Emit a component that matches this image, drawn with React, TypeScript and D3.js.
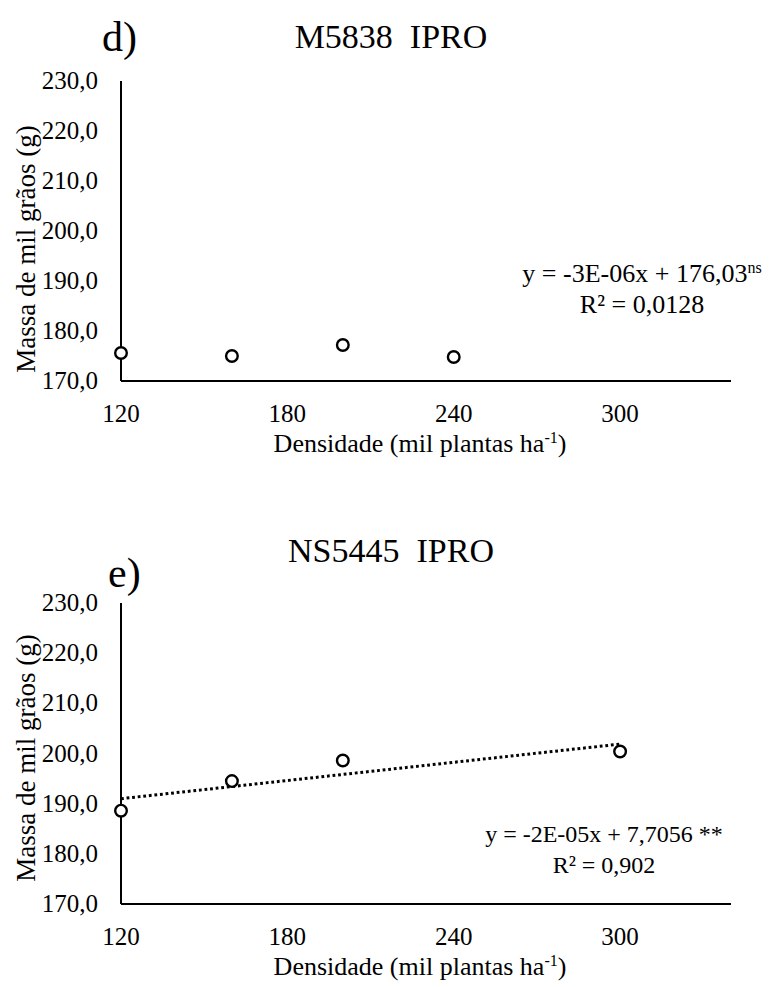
import React from 'react'
import * as d3 from 'd3'

// x ticks and y ticks shared by both panels
const xTicks = [120, 180, 240, 300]
const yTicks = [170, 180, 190, 200, 210, 220, 230]

// d) M5838 IPRO
const densD = [120, 160, 200, 240]
const massD = [175.6, 175.0, 177.2, 174.8]

// e) NS5445 IPRO
const densE = [120, 160, 200, 300]
const massE = [188.6, 194.5, 198.6, 200.4]

const ptBR = d3.formatLocale({ decimal: ',', thousands: '.', grouping: [3], currency: ['', ''] })
const fmtY = ptBR.format('.1f')

const FAM = 'Liberation Serif'

const Txt = ({ size, children, ...rest }: any) => (
  <text fontFamily={FAM} fontSize={size} {...rest}>
    {children}
  </text>
)

type PanelProps = {
  top: number
  bottom: number
  letter: string
  letterX: number
  letterY: number
  title: string
  titleY: number
  xs: number[]
  ys: number[]
  trend: boolean
  eq: React.ReactNode
  r2: string
  eqX: number
  eqY: number
  eqSize: number
  yLabelY: number
}

const Panel = ({ top, bottom, letter, letterX, letterY, title, titleY, xs, ys, trend, eq, r2, eqX, eqY, eqSize, yLabelY }: PanelProps) => {
  const left = 121
  const right = 731
  const x = d3.scaleLinear().domain([120, 340]).range([left, right])
  const y = d3.scaleLinear().domain([170, 230]).range([bottom, top])

  // linear trendline (least squares) over the plotted points
  let trendPath: string | null = null
  if (trend) {
    const mx = d3.mean(xs) as number
    const my = d3.mean(ys) as number
    const sxy = d3.sum(xs, (v, i) => (v - mx) * (ys[i] - my))
    const sxx = d3.sum(xs, (v) => (v - mx) * (v - mx))
    const b = sxy / sxx
    const a = my - b * mx
    trendPath = d3.line<number>()
      .x((d) => x(d))
      .y((d) => y(a + b * d))(d3.extent(xs) as [number, number])
  }

  return (
    <g fill="#000">
      <Txt x={letterX} y={letterY} size={42}>{letter}</Txt>
      <Txt x={391} y={titleY} size={34} textAnchor="middle" xmlSpace="preserve">{title}</Txt>

      {yTicks.map((t) => (
        <Txt key={t} x={98} y={y(t) + 8} size={25} textAnchor="end">{fmtY(t)}</Txt>
      ))}
      {xTicks.map((t) => (
        <Txt key={t} x={x(t)} y={bottom + 41} size={25} textAnchor="middle">{t}</Txt>
      ))}

      <Txt transform={`translate(${35},${yLabelY}) rotate(-90)`} size={27} textAnchor="middle">
        Massa de mil grãos (g)
      </Txt>
      <Txt x={420} y={bottom + 71} size={26} textAnchor="middle">
        Densidade (mil plantas ha<tspan dy={-9} fontSize={16}>-1</tspan><tspan dy={9}>)</tspan>
      </Txt>

      <line x1={left} x2={left} y1={top} y2={bottom} stroke="#000" strokeWidth={2} />
      <line x1={left} x2={right} y1={bottom} y2={bottom} stroke="#000" strokeWidth={2} />

      {trendPath && (
        <path d={trendPath} fill="none" stroke="#000" strokeWidth={3} strokeDasharray="2.8 2.8" />
      )}

      {xs.map((d, i) => (
        <circle key={i} cx={x(d)} cy={y(ys[i])} r={5.8} fill="#fff" stroke="#000" strokeWidth={2.4} />
      ))}

      <Txt x={eqX} y={eqY} size={eqSize} textAnchor="middle">{eq}</Txt>
      <Txt x={eqX} y={eqY + 31} size={eqSize} textAnchor="middle">{r2}</Txt>
    </g>
  )
}

export default function App() {
  return (
    <svg
      width={770}
      height={987}
      fontFamily={FAM}
      style={{ position: 'absolute', left: 0, top: 0, background: '#fff' }}
    >
      <Panel
        top={81}
        bottom={381}
        letter="d)"
        letterX={102}
        letterY={51}
        title="M5838  IPRO"
        titleY={48}
        xs={densD}
        ys={massD}
        trend={false}
        eq={<>y = -3E-06x + 176,03<tspan dy={-9} fontSize={16}>ns</tspan></>}
        r2="R² = 0,0128"
        eqX={642}
        eqY={282}
        eqSize={26}
        yLabelY={249}
      />
      <Panel
        top={603}
        bottom={904}
        letter="e)"
        letterX={108}
        letterY={587}
        title="NS5445  IPRO"
        titleY={562}
        xs={densE}
        ys={massE}
        trend={true}
        eq={<>y = -2E-05x + 7,7056 **</>}
        r2="R² = 0,902"
        eqX={604}
        eqY={842}
        eqSize={24}
        yLabelY={758}
      />
    </svg>
  )
}
